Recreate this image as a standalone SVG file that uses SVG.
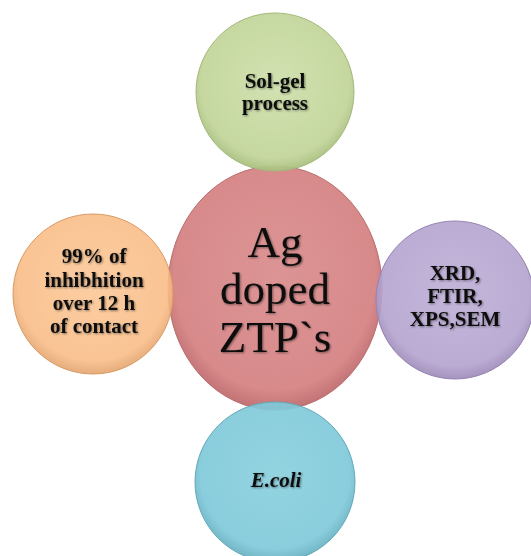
<svg xmlns="http://www.w3.org/2000/svg" width="531" height="556" viewBox="0 0 531 556">
  <defs>
    <radialGradient id="gGreen" cx="50%" cy="45%" r="55%">
      <stop offset="0" stop-color="#cfe0ad"/>
      <stop offset="0.85" stop-color="#c3d69b"/>
      <stop offset="1" stop-color="#a9bf80"/>
    </radialGradient>
    <radialGradient id="gRed" cx="50%" cy="45%" r="55%">
      <stop offset="0" stop-color="#dc9494"/>
      <stop offset="0.85" stop-color="#d88a8b"/>
      <stop offset="1" stop-color="#c07274"/>
    </radialGradient>
    <radialGradient id="gOrange" cx="50%" cy="45%" r="55%">
      <stop offset="0" stop-color="#fcc898"/>
      <stop offset="0.85" stop-color="#f9bd88"/>
      <stop offset="1" stop-color="#e3a46e"/>
    </radialGradient>
    <radialGradient id="gPurple" cx="50%" cy="45%" r="55%">
      <stop offset="0" stop-color="#bdaed6"/>
      <stop offset="0.85" stop-color="#b4a3cf"/>
      <stop offset="1" stop-color="#9a88b7"/>
    </radialGradient>
    <radialGradient id="gBlue" cx="50%" cy="45%" r="55%">
      <stop offset="0" stop-color="#8ad0de"/>
      <stop offset="0.85" stop-color="#80c9d9"/>
      <stop offset="1" stop-color="#66afc0"/>
    </radialGradient>
    <filter id="soft" x="-20%" y="-20%" width="140%" height="140%">
      <feGaussianBlur in="SourceAlpha" stdDeviation="1.2"/>
      <feOffset dx="0.5" dy="1" result="b"/>
      <feComponentTransfer><feFuncA type="linear" slope="0.45"/></feComponentTransfer>
      <feMerge><feMergeNode/><feMergeNode in="SourceGraphic"/></feMerge>
    </filter>
    <style>
      .node { stroke-width: 1; }
      .lbl { font-family: "Liberation Serif", "Times New Roman", serif; fill: #111; text-anchor: middle; filter: url(#soft); }
      .small { font-size: 21px; font-weight: bold; }
      .big { font-size: 45px; }
    </style>
  </defs>

  <rect width="531" height="556" fill="#ffffff"/>

  <!-- hub -->
  <g id="hub">
    <ellipse class="node" cx="275" cy="288" rx="107" ry="122" fill="url(#gRed)" stroke="#b86e70"/>
    <text class="lbl big" x="275" y="257">Ag</text>
    <text class="lbl big" x="275" y="304">doped</text>
    <text class="lbl big" x="275" y="352">ZTP`s</text>
  </g>

  <!-- satellites -->
  <g id="synthesis">
    <circle class="node" cx="275" cy="92" r="79" fill="url(#gGreen)" fill-opacity="0.95" stroke="#a3b87c"/>
    <text class="lbl small" x="275" y="88">Sol-gel</text>
    <text class="lbl small" x="275" y="110">process</text>
  </g>

  <g id="activity">
    <circle class="node" cx="93" cy="294" r="80" fill="url(#gOrange)" fill-opacity="0.9" stroke="#d99a64"/>
    <text class="lbl small" x="94" y="263">99% of</text>
    <text class="lbl small" x="94" y="287">inhibhition</text>
    <text class="lbl small" x="94" y="310">over 12 h</text>
    <text class="lbl small" x="94" y="333">of contact</text>
  </g>

  <g id="characterization">
    <circle class="node" cx="455" cy="300" r="79" fill="url(#gPurple)" fill-opacity="0.9" stroke="#9583b2"/>
    <text class="lbl small" x="455" y="280">XRD,</text>
    <text class="lbl small" x="455" y="303">FTIR,</text>
    <text class="lbl small" x="455" y="326">XPS,SEM</text>
  </g>

  <g id="organism">
    <circle class="node" cx="275" cy="482" r="80" fill="url(#gBlue)" fill-opacity="0.92" stroke="#62a9ba"/>
    <text class="lbl small" x="276" y="487" font-style="italic">E.coli</text>
  </g>

  <!-- no connectors: satellites touch the hub directly -->
  <g id="connectors"/>
</svg>
